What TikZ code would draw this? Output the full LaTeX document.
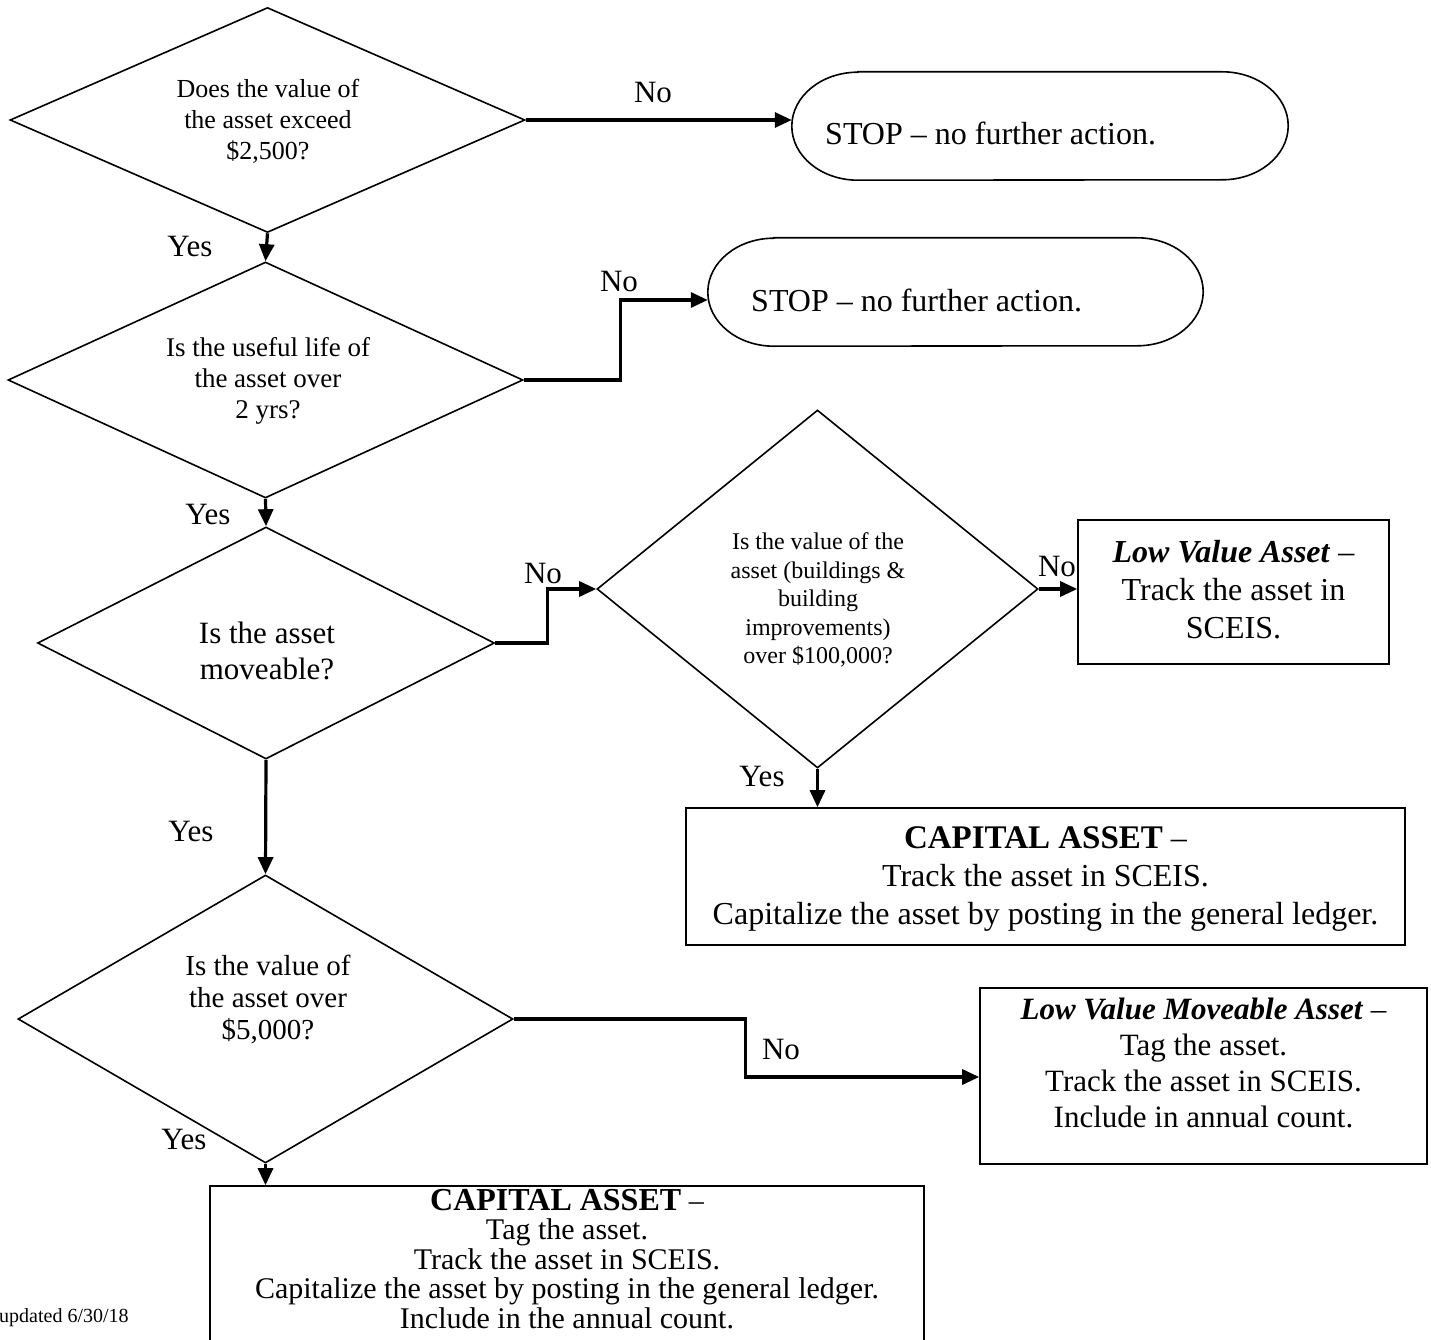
\documentclass[tikz,border=0pt]{standalone}
\usepackage{fontspec}
\setmainfont{Liberation Serif}
\usetikzlibrary{arrows.meta,shapes.geometric}
\begin{document}
\begin{tikzpicture}[x=1pt,y=-1pt,
  dec/.style={draw,diamond,line width=1.6pt,inner sep=0pt},
  termbox/.style={rectangle,inner sep=0pt},
  outline/.style={line width=1.6pt},
  boxx/.style={draw,rectangle,line width=1.6pt,inner sep=0pt},
  txt/.style={align=center,inner sep=0pt},
  conn/.style={line width=3.2pt,-{Triangle[length=17pt,width=15pt]}},
  lab/.style={font=\fontsize{31}{36}\selectfont,inner sep=0pt}]
\useasboundingbox (0,0) rectangle (1431,1340);
% decisions
\node[dec,minimum width=515pt,minimum height=225pt] (d1) at (267.5,120) {};
\node[txt,font=\fontsize{26}{31}\selectfont] (d1t) at (268,121)
  {Does the value of\\the asset exceed\\\$2,500?};
\node[dec,minimum width=515pt,minimum height=236pt] (d2) at (265.5,380) {};
\node[txt,font=\fontsize{27}{31}\selectfont] (d2t) at (268,381)
  {Is the useful life of\\the asset over\\2 yrs?};
\node[dec,minimum width=457pt,minimum height=232pt] (d3) at (266,643) {};
\node[txt,font=\fontsize{31}{36}\selectfont] (d3t) at (267,651)
  {Is the asset\\moveable?};
\node[dec,minimum width=441pt,minimum height=358pt] (d4) at (817.5,589) {};
\node[txt,font=\fontsize{24}{28.5}\selectfont] (d4t) at (818,600)
  {Is the value of the\\asset (buildings \&\\building\\improvements)\\over \$100,000?};
\node[dec,minimum width=495pt,minimum height=288pt] (d5) at (265.5,1019) {};
\node[txt,font=\fontsize{29}{32}\selectfont] (d5t) at (268,1000)
  {Is the value of\\the asset over\\\$5,000?};
% terminals
\node[termbox,minimum width=496pt,minimum height=108pt] (t1) at (1040,126) {};
\draw[outline] ([xshift=66pt]t1.north west) -- ([xshift=-66pt]t1.north east)
  arc[start angle=90,end angle=-90,x radius=66pt,y radius=54pt]
  -- ([xshift=66pt]t1.south west)
  arc[start angle=270,end angle=90,x radius=66pt,y radius=54pt] -- cycle;
\node[anchor=west,inner sep=0pt,font=\fontsize{32}{36}\selectfont] (t1t) at (825,133) {STOP – no further action.};
\node[termbox,minimum width=495pt,minimum height=108pt] (t2) at (955.5,292) {};
\draw[outline] ([xshift=66pt]t2.north west) -- ([xshift=-66pt]t2.north east)
  arc[start angle=90,end angle=-90,x radius=66pt,y radius=54pt]
  -- ([xshift=66pt]t2.south west)
  arc[start angle=270,end angle=90,x radius=66pt,y radius=54pt] -- cycle;
\node[anchor=west,inner sep=0pt,font=\fontsize{32}{36}\selectfont] (t2t) at (751,300) {STOP – no further action.};
% boxes
\node[boxx,minimum width=311pt,minimum height=144pt] (b1) at (1233.5,592) {};
\node[txt,font=\fontsize{32}{38}\selectfont] (b1t) at (1233.5,590)
  {\textbf{\textit{Low Value Asset}} –\\Track the asset in\\SCEIS.};
\node[boxx,minimum width=719pt,minimum height=137pt] (b2) at (1045.5,876.5) {};
\node[txt,font=\fontsize{32}{38}\selectfont] (b2t) at (1045.5,879)
  {{\fontsize{33}{38}\selectfont\bfseries CAPITAL ASSET} –\\Track the asset in SCEIS.\\Capitalize the asset by posting in the general ledger.};
\node[boxx,minimum width=447pt,minimum height=176pt] (b3) at (1203.5,1076) {};
\node[txt,font=\fontsize{31}{36}\selectfont] (b3t) at (1203.5,1063)
  {\textbf{\textit{Low Value Moveable Asset}} –\\Tag the asset.\\Track the asset in SCEIS.\\Include in annual count.};
\node[boxx,minimum width=714pt,minimum height=180pt] (b4) at (567,1276) {};
\node[txt,font=\fontsize{30}{29.5}\selectfont] (b4t) at (567,1259)
  {{\fontsize{32}{29.5}\selectfont\bfseries CAPITAL ASSET} –\\Tag the asset.\\Track the asset in SCEIS.\\Capitalize the asset by posting in the general ledger.\\Include in the annual count.};
% connectors
\draw[conn] (d1.east) -- (d1.east -| t1.west);
\draw[conn] (d1.south) -- (d2.north);
\draw[conn] (d2.east) -- ++(97,0) |- ([yshift=-8pt]t2.west);
\draw[conn] (d2.south) -- (d3.north);
\draw[conn] (d3.east) -- ++(52,0) |- (d4.west);
\draw[conn] (d4.east) -- (d4.east -| b1.west);
\draw[conn] (d4.south) -- (d4.south |- b2.north);
\draw[conn] (d3.south) -- (d5.north);
\draw[conn] (d5.east) -- ++(232,0) |- ([yshift=-1pt]b3.west);
\draw[conn] (d5.south) -- (d5.south |- b4.north);
% labels
\node[lab] (l1) at (653,93) {No};
\node[lab] (l2) at (190,247) {Yes};
\node[lab] (l3) at (619,282) {No};
\node[lab] (l4) at (208,514) {Yes};
\node[lab] (l5) at (543,573) {No};
\node[lab] (l6) at (1057,566) {No};
\node[lab] (l7) at (762,776) {Yes};
\node[lab] (l8) at (191,831) {Yes};
\node[lab] (l9) at (781,1049) {No};
\node[lab] (l10) at (184,1139) {Yes};
\node[anchor=west,inner sep=0pt,font=\fontsize{20}{24}\selectfont] (upd) at (-1,1318) {updated 6/30/18};
\end{tikzpicture}
\end{document}
